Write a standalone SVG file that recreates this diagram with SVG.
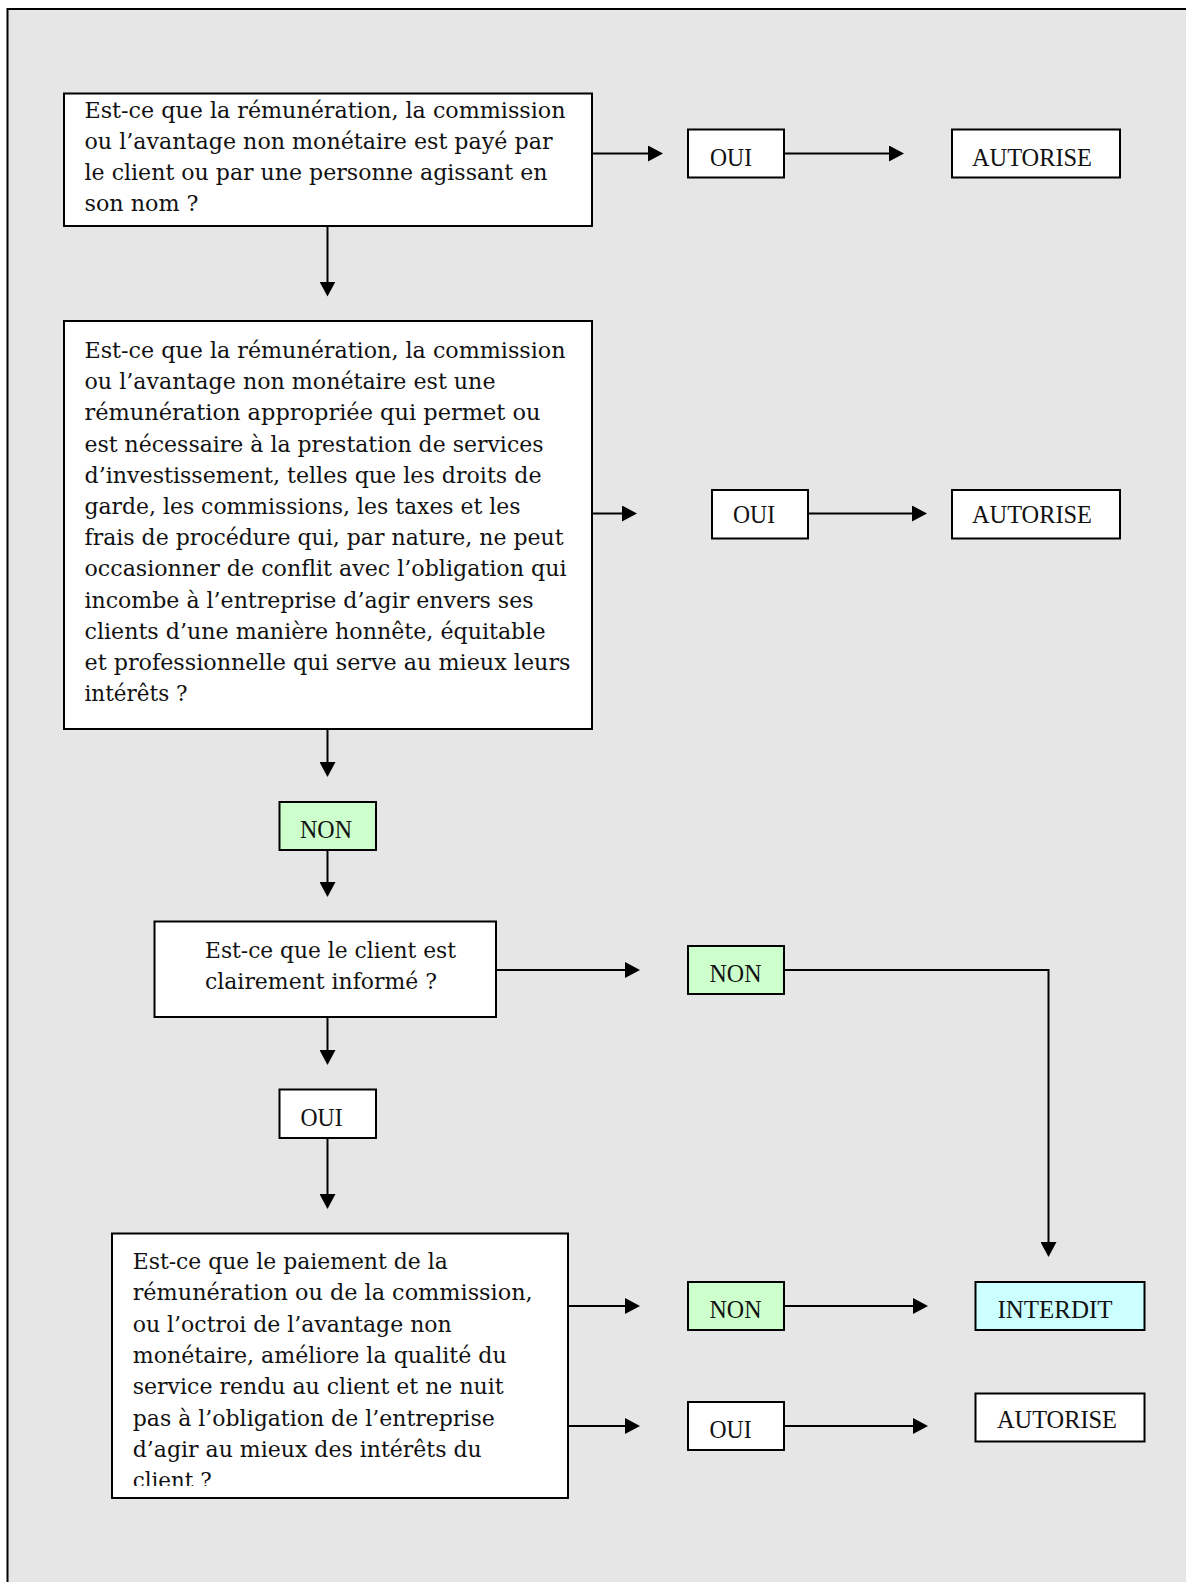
<svg xmlns="http://www.w3.org/2000/svg" width="1186" height="1582" viewBox="0 0 1186 1582">
<defs>
<style>
.bg{fill:#e6e6e6}
.frame{stroke:#000;stroke-width:2;fill:none}
.box{fill:#fff;stroke:#000;stroke-width:2}
.green{fill:#ccffcc;stroke:#000;stroke-width:2}
.cyan{fill:#ccffff;stroke:#000;stroke-width:2}
.q{font-family:"DejaVu Serif","Liberation Serif",serif;font-size:22.5px;fill:#111}
.lbl{font-family:"Liberation Serif","DejaVu Serif",serif;font-size:25px;fill:#111}
.conn{stroke:#000;stroke-width:2;fill:none}
</style>
<marker id="ah" markerUnits="userSpaceOnUse" viewBox="0 0 15 16" refX="7" refY="8" markerWidth="15" markerHeight="16" orient="auto">
<path d="M0,0 L15,8 L0,16 z" fill="#000"/>
</marker>
<clipPath id="clip4"><rect x="112" y="1234" width="456" height="252"/></clipPath>
</defs>
<rect x="0" y="0" width="1186" height="1582" fill="#fff"/>
<rect class="bg" x="8" y="9" width="1178" height="1573"/>
<path class="frame" d="M7.5,1582 L7.5,9 L1186,9"/>

<g id="connectors">
<path class="conn" marker-end="url(#ah)" d="M592,153.5 L655,153.5"/>
<path class="conn" marker-end="url(#ah)" d="M784,153.5 L896,153.5"/>
<path class="conn" marker-end="url(#ah)" d="M327.5,226 L327.5,288.5"/>
<path class="conn" marker-end="url(#ah)" d="M592,513.5 L629,513.5"/>
<path class="conn" marker-end="url(#ah)" d="M808,513.5 L919,513.5"/>
<path class="conn" marker-end="url(#ah)" d="M327.5,729 L327.5,769"/>
<path class="conn" marker-end="url(#ah)" d="M327.5,850 L327.5,889"/>
<path class="conn" marker-end="url(#ah)" d="M496,970 L632,970"/>
<path class="conn" marker-end="url(#ah)" d="M784,970 L1048.5,970 L1048.5,1249"/>
<path class="conn" marker-end="url(#ah)" d="M327.5,1017 L327.5,1057"/>
<path class="conn" marker-end="url(#ah)" d="M327.5,1138 L327.5,1201"/>
<path class="conn" marker-end="url(#ah)" d="M568,1306 L632,1306"/>
<path class="conn" marker-end="url(#ah)" d="M784,1306 L920,1306"/>
<path class="conn" marker-end="url(#ah)" d="M568,1426 L632,1426"/>
<path class="conn" marker-end="url(#ah)" d="M784,1426 L920,1426"/>
</g>

<g id="q1">
<rect class="box" x="64" y="93.5" width="528" height="132.5"/>
<text class="q">
<tspan x="84.5" y="117.5" textLength="481" lengthAdjust="spacingAndGlyphs">Est-ce que la rémunération, la commission</tspan>
<tspan x="84.5" y="148.5" textLength="468" lengthAdjust="spacingAndGlyphs">ou l’avantage non monétaire est payé par</tspan>
<tspan x="84.5" y="179.5" textLength="463" lengthAdjust="spacingAndGlyphs">le client ou par une personne agissant en</tspan>
<tspan x="84.5" y="210.5" textLength="114" lengthAdjust="spacingAndGlyphs">son nom ?</tspan>
</text>
</g>

<g id="oui1">
<rect class="box" x="688" y="129.5" width="96" height="48"/>
<text class="lbl" x="710" y="165.5" textLength="42" lengthAdjust="spacingAndGlyphs">OUI</text>
</g>
<g id="autorise1">
<rect class="box" x="952" y="129.5" width="168" height="48"/>
<text class="lbl" x="972" y="165.5" textLength="120" lengthAdjust="spacingAndGlyphs">AUTORISE</text>
</g>

<g id="q2">
<rect class="box" x="64" y="321" width="528" height="408"/>
<text class="q">
<tspan x="84.5" y="358" textLength="481" lengthAdjust="spacingAndGlyphs">Est-ce que la rémunération, la commission</tspan>
<tspan x="84.5" y="389.2" textLength="411" lengthAdjust="spacingAndGlyphs">ou l’avantage non monétaire est une</tspan>
<tspan x="84.5" y="420.4" textLength="456" lengthAdjust="spacingAndGlyphs">rémunération appropriée qui permet ou</tspan>
<tspan x="84.5" y="451.6" textLength="459" lengthAdjust="spacingAndGlyphs">est nécessaire à la prestation de services</tspan>
<tspan x="84.5" y="482.8" textLength="457" lengthAdjust="spacingAndGlyphs">d’investissement, telles que les droits de</tspan>
<tspan x="84.5" y="514" textLength="436" lengthAdjust="spacingAndGlyphs">garde, les commissions, les taxes et les</tspan>
<tspan x="84.5" y="545.2" textLength="479" lengthAdjust="spacingAndGlyphs">frais de procédure qui, par nature, ne peut</tspan>
<tspan x="84.5" y="576.4" textLength="482" lengthAdjust="spacingAndGlyphs">occasionner de conflit avec l’obligation qui</tspan>
<tspan x="84.5" y="607.6" textLength="449" lengthAdjust="spacingAndGlyphs">incombe à l’entreprise d’agir envers ses</tspan>
<tspan x="84.5" y="638.8" textLength="461" lengthAdjust="spacingAndGlyphs">clients d’une manière honnête, équitable</tspan>
<tspan x="84.5" y="670" textLength="486" lengthAdjust="spacingAndGlyphs">et professionnelle qui serve au mieux leurs</tspan>
<tspan x="84.5" y="701.2" textLength="103" lengthAdjust="spacingAndGlyphs">intérêts ?</tspan>
</text>
</g>

<g id="oui2">
<rect class="box" x="712" y="490" width="96" height="48.5"/>
<text class="lbl" x="733" y="523" textLength="42" lengthAdjust="spacingAndGlyphs">OUI</text>
</g>
<g id="autorise2">
<rect class="box" x="952" y="490" width="168" height="48.5"/>
<text class="lbl" x="972" y="523" textLength="120" lengthAdjust="spacingAndGlyphs">AUTORISE</text>
</g>

<g id="non1">
<rect class="green" x="279.5" y="802" width="96.5" height="48"/>
<text class="lbl" x="300" y="838" textLength="52" lengthAdjust="spacingAndGlyphs">NON</text>
</g>

<g id="q3">
<rect class="box" x="154.5" y="921.5" width="341.5" height="95.5"/>
<text class="q">
<tspan x="205" y="958" textLength="251" lengthAdjust="spacingAndGlyphs">Est-ce que le client est</tspan>
<tspan x="205" y="989" textLength="232" lengthAdjust="spacingAndGlyphs">clairement informé ?</tspan>
</text>
</g>

<g id="non2">
<rect class="green" x="688" y="946" width="96" height="48"/>
<text class="lbl" x="709.5" y="981.5" textLength="52" lengthAdjust="spacingAndGlyphs">NON</text>
</g>

<g id="oui3">
<rect class="box" x="279.5" y="1089.5" width="96.5" height="48.5"/>
<text class="lbl" x="300.5" y="1126" textLength="42" lengthAdjust="spacingAndGlyphs">OUI</text>
</g>

<g id="q4">
<rect class="box" x="112" y="1233.5" width="456" height="264.5"/>
<text class="q" clip-path="url(#clip4)">
<tspan x="132.7" y="1269" textLength="315" lengthAdjust="spacingAndGlyphs">Est-ce que le paiement de la</tspan>
<tspan x="132.7" y="1300.3" textLength="400" lengthAdjust="spacingAndGlyphs">rémunération ou de la commission,</tspan>
<tspan x="132.7" y="1331.6" textLength="319" lengthAdjust="spacingAndGlyphs">ou l’octroi de l’avantage non</tspan>
<tspan x="132.7" y="1362.9" textLength="374" lengthAdjust="spacingAndGlyphs">monétaire, améliore la qualité du</tspan>
<tspan x="132.7" y="1394.2" textLength="371" lengthAdjust="spacingAndGlyphs">service rendu au client et ne nuit</tspan>
<tspan x="132.7" y="1425.5" textLength="362" lengthAdjust="spacingAndGlyphs">pas à l’obligation de l’entreprise</tspan>
<tspan x="132.7" y="1456.8" textLength="349" lengthAdjust="spacingAndGlyphs">d’agir au mieux des intérêts du</tspan>
<tspan x="132.7" y="1488.1" textLength="79" lengthAdjust="spacingAndGlyphs">client ?</tspan>
</text>
</g>

<g id="non3">
<rect class="green" x="688" y="1282" width="96" height="48"/>
<text class="lbl" x="709.5" y="1318" textLength="52" lengthAdjust="spacingAndGlyphs">NON</text>
</g>
<g id="interdit">
<rect class="cyan" x="975.5" y="1282" width="169" height="48"/>
<text class="lbl" x="997.5" y="1318" textLength="115" lengthAdjust="spacingAndGlyphs">INTERDIT</text>
</g>
<g id="oui4">
<rect class="box" x="688" y="1402" width="96" height="48"/>
<text class="lbl" x="709.5" y="1438" textLength="42" lengthAdjust="spacingAndGlyphs">OUI</text>
</g>
<g id="autorise3">
<rect class="box" x="975.5" y="1393.5" width="169" height="48"/>
<text class="lbl" x="997" y="1428" textLength="120" lengthAdjust="spacingAndGlyphs">AUTORISE</text>
</g>
</svg>
